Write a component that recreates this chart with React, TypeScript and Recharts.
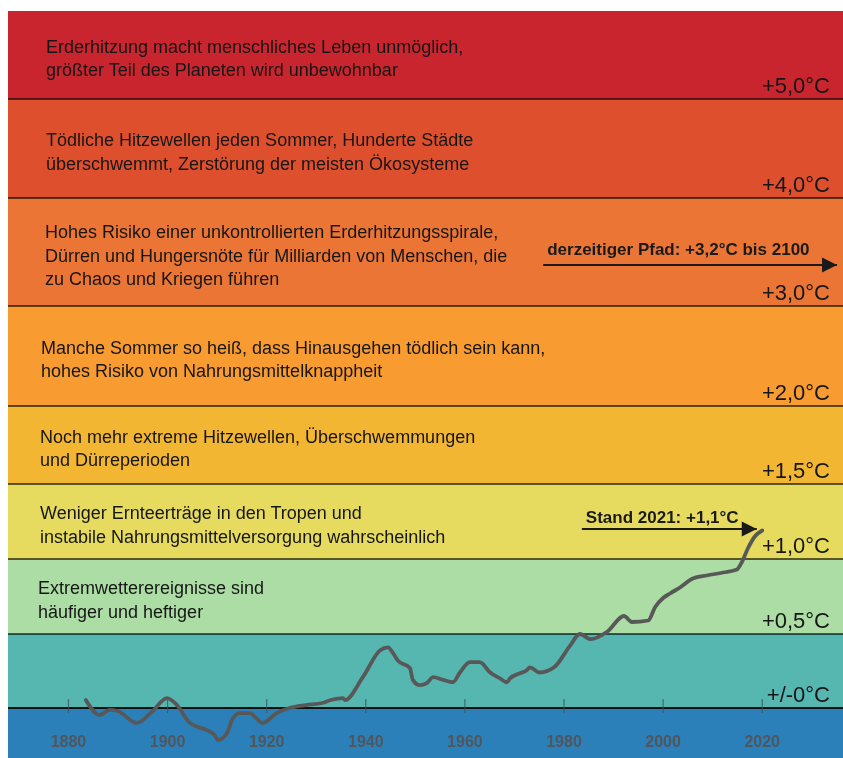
import { LineChart, Line, XAxis, YAxis, ReferenceArea, ReferenceLine } from 'recharts';

// temperature anomaly (°C vs. pre-industrial)
const years = [
  1883.5, 1886.3, 1888.3, 1889.9, 1893.8, 1896.8, 1899.9, 1901.9, 1904.5, 1907.9,
  1909.5, 1910.2, 1912.0, 1913.2, 1914.6, 1916.6, 1919.2, 1922.0, 1924.6, 1927.9,
  1931.2, 1933.0, 1935.4, 1935.8, 1939.4, 1942.9, 1944.5, 1945.5, 1946.5, 1948.9,
  1949.5, 1950.9, 1952.3, 1953.6, 1955.6, 1957.6, 1959.0, 1961.0, 1963.0, 1965.1,
  1967.1, 1968.5, 1969.1, 1971.1, 1972.5, 1973.1, 1975.1, 1978.0, 1981.2, 1983.2,
  1985.4, 1988.7, 1992.1, 1993.7, 1997.0, 1998.4, 2000.0, 2001.4, 2003.4, 2006.0,
  2008.8, 2012.1, 2014.9, 2015.9, 2017.1, 2018.5, 2020.0,
];
const anomaly = [
  0.054, -0.047, -0.013, -0.02, -0.1, -0.027, 0.067, 0.02, -0.1, -0.148,
  -0.18, -0.215, -0.168, -0.067, -0.034, -0.034, -0.1, -0.034, 0.0, 0.02,
  0.034, 0.054, 0.067, 0.054, 0.208, 0.39, 0.41, 0.37, 0.32, 0.27,
  0.19, 0.154, 0.168, 0.208, 0.19, 0.174, 0.24, 0.31, 0.31, 0.24,
  0.2, 0.174, 0.2, 0.235, 0.255, 0.275, 0.24, 0.275, 0.42, 0.5,
  0.465, 0.515, 0.62, 0.58, 0.59, 0.68, 0.74, 0.77, 0.81, 0.87,
  0.89, 0.91, 0.93, 0.98, 1.07, 1.15, 1.19,
];

const tickYears = [1880, 1900, 1920, 1940, 1960, 1980, 2000, 2020];

// warming thresholds and their labels
const thresholds = [0, 0.5, 1, 1.5, 2, 3, 4, 5];
const thresholdLabels = ['+/-0°C', '+0,5°C', '+1,0°C', '+1,5°C', '+2,0°C', '+3,0°C', '+4,0°C', '+5,0°C'];

// bands, bottom to top
const bandTexts: string[][] = [
  [],
  [],
  ['Extremwetterereignisse sind', 'häufiger und heftiger'],
  ['Weniger Ernteerträge in den Tropen und', 'instabile Nahrungsmittelversorgung wahrscheinlich'],
  ['Noch mehr extreme Hitzewellen, Überschwemmungen', 'und Dürreperioden'],
  ['Manche Sommer so heiß, dass Hinausgehen tödlich sein kann,', 'hohes Risiko von Nahrungsmittelknappheit'],
  [
    'Hohes Risiko einer unkontrollierten Erderhitzungsspirale,',
    'Dürren und Hungersnöte für Milliarden von Menschen, die',
    'zu Chaos und Kriegen führen',
  ],
  ['Tödliche Hitzewellen jeden Sommer, Hunderte Städte', 'überschwemmt, Zerstörung der meisten Ökosysteme'],
  ['Erderhitzung macht menschliches Leben unmöglich,', 'größter Teil des Planeten wird unbewohnbar'],
];

const pathNote = { text: 'derzeitiger Pfad: +3,2°C bis 2100', from: 1975.8, to: 2035.1, y: 3.38 };
const nowNote = { text: 'Stand 2021: +1,1°C', from: 1983.6, to: 2018.9, y: 1.2 };

// styling
const bandColors = ['#2B80B9', '#56B6B0', '#ABDDA4', '#E6DB5E', '#F3B632', '#F89B31', '#EB7535', '#DE4F2E', '#C9252F'];
const bandIndent = [0, 0, 30, 32, 32, 33, 37, 38, 38];
const FONT = '"Liberation Sans", Arial, sans-serif';
const Y_MIN = -0.335;
const Y_MAX = 5.9;
const X_DOMAIN: [number, number] = [1867.8, 2036.3];
const W = 835;
const H = 747;

// the graphic stretches the upper bands less than the lower ones:
// [°C, px above the bottom of the plot]
const yKnots: [number, number][] = [
  [Y_MIN, 0], [0, 50], [0.5, 124], [1, 199], [1.5, 274], [2, 352], [3, 452], [4, 560], [5, 659], [Y_MAX, 747],
];

function piecewiseScale(knots: [number, number][]): any {
  let dom = [knots[0][0], knots[knots.length - 1][0]];
  let rng = [0, 1];
  const total = knots[knots.length - 1][1];
  const frac = (v: number) => {
    let i = 0;
    while (i < knots.length - 2 && v > knots[i + 1][0]) i++;
    const [a, pa] = knots[i];
    const [b, pb] = knots[i + 1];
    return (pa + ((v - a) / (b - a)) * (pb - pa)) / total;
  };
  const scale: any = (v: number) => rng[0] + (rng[1] - rng[0]) * frac(Number(v));
  scale.domain = (d?: number[]) => {
    if (d === undefined) return dom.slice();
    dom = d.slice();
    return scale;
  };
  scale.range = (r?: number[]) => {
    if (r === undefined) return rng.slice();
    rng = r.slice();
    return scale;
  };
  scale.copy = () => piecewiseScale(knots).domain(dom).range(rng);
  scale.ticks = () => knots.map((k) => k[0]);
  scale.invert = (px: number) => {
    const f = ((px - rng[0]) / (rng[1] - rng[0])) * total;
    let i = 0;
    while (i < knots.length - 2 && f > knots[i + 1][1]) i++;
    const [a, pa] = knots[i];
    const [b, pb] = knots[i + 1];
    return a + ((f - pa) / (pb - pa)) * (b - a);
  };
  scale.clamp = () => scale;
  scale.nice = () => scale;
  return scale;
}

const yScale = piecewiseScale(yKnots);

const data = years.map((year, i) => ({ year, temp: anomaly[i] }));

const bandEdges = [Y_MIN, ...thresholds, Y_MAX];

function bandText(viewBox: any, lines: string[], indent: number) {
  if (!viewBox || lines.length === 0) return null;
  const lineH = 23.5;
  const first = viewBox.y + viewBox.height / 2 - ((lines.length - 1) * lineH) / 2 + 9.5;
  return (
    <text x={viewBox.x + indent} y={first} fill="#161616" fontSize={18} fontFamily={FONT}>
      {lines.map((l, i) => (
        <tspan key={i} x={viewBox.x + indent} y={first + i * lineH}>
          {l}
        </tspan>
      ))}
    </text>
  );
}

function thresholdText(viewBox: any, label: string) {
  if (!viewBox) return null;
  return (
    <text x={viewBox.x + viewBox.width - 13} y={viewBox.y - 6} textAnchor="end" fill="#161616" fontSize={22} fontFamily={FONT}>
      {label}
    </text>
  );
}

function arrowText(viewBox: any, text: string, gap: number) {
  if (!viewBox) return null;
  const tipX = viewBox.x + viewBox.width;
  const y = viewBox.y;
  return (
    <g>
      <polygon points={`${tipX},${y} ${tipX - 15},${y - 7.5} ${tipX - 15},${y + 7.5}`} fill="#1a1a1a" />
      <text x={viewBox.x + 4} y={y - gap} fill="#1a1a1a" fontSize={17} fontWeight={700} fontFamily={FONT}>
        {text}
      </text>
    </g>
  );
}

export default function App() {
  return (
    <div style={{ position: 'fixed', left: 8, top: 11, width: W, height: H }}>
      <LineChart width={W} height={H} data={data} margin={{ top: 0, right: 0, bottom: 0, left: 0 }}>
        <XAxis
          dataKey="year"
          type="number"
          domain={X_DOMAIN}
          allowDataOverflow
          ticks={tickYears}
          mirror
          axisLine={false}
          tickLine={false}
          tickSize={0}
          tickMargin={11}
          tick={{ fill: '#50565c', fontSize: 16, fontWeight: 700, fontFamily: FONT }}
        />
        <YAxis type="number" hide scale={yScale} domain={[Y_MIN, Y_MAX]} allowDataOverflow ticks={thresholds} />
        {bandColors.map((c, i) => (
          <ReferenceArea
            key={'band' + i}
            y1={bandEdges[i]}
            y2={bandEdges[i + 1]}
            fill={c}
            fillOpacity={1}
            stroke="none"
            ifOverflow="extendDomain"
            label={(p: any) => bandText(p.viewBox, bandTexts[i], bandIndent[i])}
          />
        ))}
        {thresholds.map((t, i) => (
          <ReferenceLine
            key={'thr' + t}
            y={t}
            stroke={t === 0 ? '#111' : 'rgba(0,0,0,0.6)'}
            strokeWidth={2}
            label={(p: any) => thresholdText(p.viewBox, thresholdLabels[i])}
          />
        ))}
        {tickYears.map((yr) => (
          <ReferenceLine
            key={'tick' + yr}
            segment={[
              { x: yr, y: 0.06 },
              { x: yr, y: -0.034 },
            ]}
            stroke="#3e5058"
            strokeOpacity={0.75}
            strokeWidth={1.2}
          />
        ))}
        <ReferenceLine
          segment={[
            { x: pathNote.from, y: pathNote.y },
            { x: pathNote.to, y: pathNote.y },
          ]}
          stroke="#1a1a1a"
          strokeWidth={2}
          label={(p: any) => arrowText(p.viewBox, pathNote.text, 10)}
        />
        <ReferenceLine
          segment={[
            { x: nowNote.from, y: nowNote.y },
            { x: nowNote.to, y: nowNote.y },
          ]}
          stroke="#1a1a1a"
          strokeWidth={2}
          label={(p: any) => arrowText(p.viewBox, nowNote.text, 6)}
        />
        <Line
          type="monotone"
          dataKey="temp"
          stroke="#585858"
          strokeWidth={3.8}
          strokeLinecap="round"
          dot={false}
          activeDot={false}
          isAnimationActive={false}
        />
      </LineChart>
    </div>
  );
}
